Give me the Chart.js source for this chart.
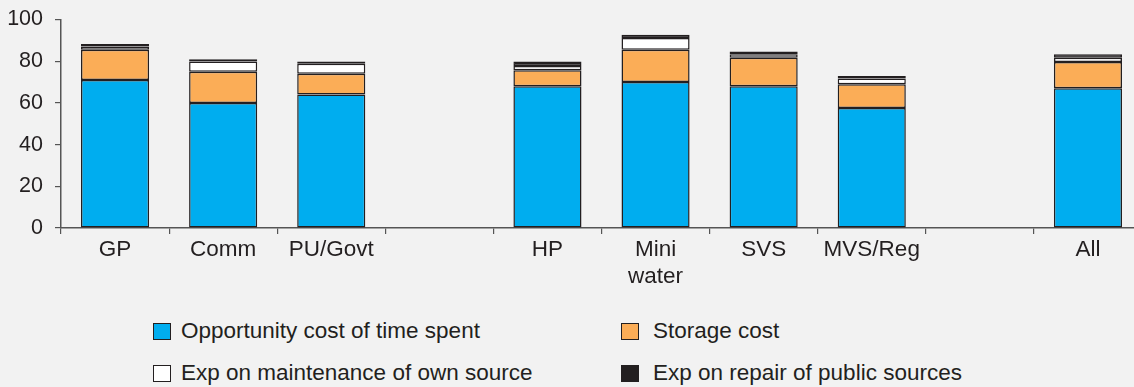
<!DOCTYPE html>
<html>
<head>
<meta charset="utf-8">
<script src="https://cdn.jsdelivr.net/npm/chart.js@4"></script>
<style>
  html, body { margin: 0; padding: 0; background: #f2f2f2; }
  body { width: 1134px; height: 387px; overflow: hidden; position: relative;
         font-family: "Liberation Sans", Arial, Helvetica, sans-serif; color: #231f20; }
  #wrap { position: absolute; left: 0; top: 0; width: 1142px; height: 292px; }
  .legend-item { position: absolute; display: flex; align-items: center; font-size: 22.5px; white-space: nowrap; height: 26px; }
  .legend-box { width: 18px; height: 17px; box-sizing: border-box; border: 1.5px solid #231f20; margin-right: 10px; }
</style>
</head>
<body>
<div id="wrap"><canvas id="c"></canvas></div>
<div id="legend"></div>
<script>
// Categories (blank slots separate the source groups)
const categories = ['GP', 'Comm', 'PU/Govt', '', 'HP', ['Mini', 'water'], 'SVS', 'MVS/Reg', '', 'All'];

// Cost components
const opportunityCost = [71, 60, 64, null, 68, 70, 68, 57.5, null, 67];
const storageCost     = [14.5, 15, 10, null, 7.7, 15.5, 13.6, 11.5, null, 12.6];
const ownMaintenance  = [1.5, 4.8, 4.8, null, 2, 5.6, 1.7, 2.7, null, 2.1];
const publicRepair    = [1.2, 1.1, 1.0, null, 2.2, 1.6, 1.4, 1.2, null, 1.6];

const yTicks = [0, 20, 40, 60, 80, 100];

const seriesNames = ['Opportunity cost of time spent', 'Storage cost',
                     'Exp on maintenance of own source', 'Exp on repair of public sources'];
const seriesColors = ['#00adef', '#fbad57', '#ffffff', '#231f20'];
const seriesValues = [opportunityCost, storageCost, ownMaintenance, publicRepair];

const ink = '#231f20';
const axisColor = '#555555';
const fontFamily = '"Liberation Sans", Arial, Helvetica, sans-serif';

const datasets = seriesNames.map((name, i) => ({
  label: name,
  data: seriesValues[i],
  backgroundColor: seriesColors[i],
  borderColor: ink,
  borderWidth: 1.5,
  borderSkipped: false,
  barPercentage: 0.63,
  categoryPercentage: 1.0
}));

new Chart(document.getElementById('c'), {
  type: 'bar',
  data: { labels: categories, datasets },
  options: {
    responsive: true,
    maintainAspectRatio: false,
    animation: false,
    layout: { padding: 0 },
    plugins: { legend: { display: false }, tooltip: { enabled: false } },
    scales: {
      x: {
        stacked: true,
        offset: true,
        grid: { offset: true, drawOnChartArea: false, drawTicks: true, tickLength: 6, color: axisColor, lineWidth: 1.2 },
        border: { color: axisColor, width: 1.5 },
        ticks: { color: ink, font: { family: fontFamily, size: 22.5, lineHeight: 1.2 }, padding: 2, maxRotation: 0, autoSkip: false },
        afterFit: (s) => { s.height = 64; }
      },
      y: {
        stacked: true,
        min: 0, max: 100,
        afterBuildTicks: (s) => { s.ticks = yTicks.map(v => ({ value: v })); },
        grid: { drawOnChartArea: false, drawTicks: true, tickLength: 6, color: axisColor, lineWidth: 1.2 },
        border: { color: axisColor, width: 1.5 },
        ticks: { color: ink, font: { family: fontFamily, size: 21.5 }, padding: 12 },
        afterFit: (s) => { s.width = 61; s.paddingTop = 19.5; s.paddingBottom = 0; }
      }
    }
  }
});

// Legend laid out in two columns, two rows
const legendPos = [[153, 331], [621, 331], [153, 373], [621, 373]];
const legendEl = document.getElementById('legend');
seriesNames.forEach((name, i) => {
  const item = document.createElement('div');
  item.className = 'legend-item';
  item.style.left = legendPos[i][0] + 'px';
  item.style.top = (legendPos[i][1] - 13) + 'px';
  const box = document.createElement('span');
  box.className = 'legend-box';
  box.style.background = seriesColors[i];
  const txt = document.createElement('span');
  txt.textContent = name;
  if (i % 2 === 1) txt.style.marginLeft = '4px';
  item.appendChild(box);
  item.appendChild(txt);
  legendEl.appendChild(item);
});
</script>
</body>
</html>
